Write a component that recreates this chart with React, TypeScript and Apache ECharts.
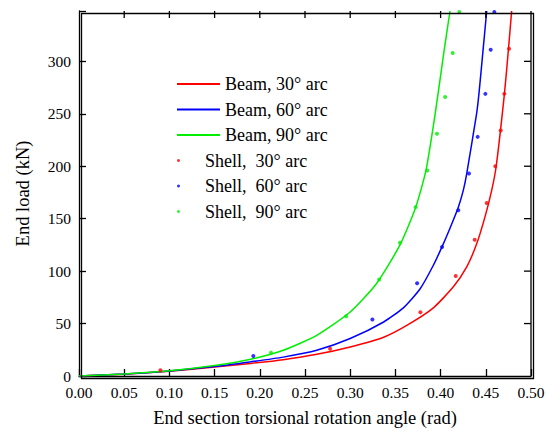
import React, { useEffect, useRef } from "react";
import * as echarts from "echarts";

const xTicks = [0, 0.05, 0.1, 0.15, 0.2, 0.25, 0.3, 0.35, 0.4, 0.45, 0.5];
const yTicks = [0, 50, 100, 150, 200, 250, 300];
const yMax = 348;

const seriesNames = [
  "Beam, 30° arc",
  "Beam, 60° arc",
  "Beam, 90° arc",
  "Shell,  30° arc",
  "Shell,  60° arc",
  "Shell,  90° arc",
];

const beam30: [number, number][] = [
  [0, 0], [0.05, 1.7], [0.1, 4.5], [0.15, 8.5], [0.19, 12], [0.226, 15.6],
  [0.263, 20.7], [0.3, 27.7], [0.337, 37], [0.364, 49], [0.392, 65],
  [0.4141, 85], [0.4289, 104], [0.4399, 126], [0.4491, 151.7], [0.4565, 177],
  [0.4615, 200], [0.4706, 269], [0.4751, 312], [0.4786, 348],
];
const beam60: [number, number][] = [
  [0, 0], [0.05, 1.8], [0.1, 4.8], [0.15, 9], [0.189, 13.4], [0.226, 18],
  [0.263, 24.5], [0.3, 35.7], [0.337, 51.5], [0.3588, 65], [0.3772, 83],
  [0.392, 105.6], [0.403, 126], [0.4123, 145], [0.4196, 161], [0.4251, 177],
  [0.4289, 193], [0.4398, 250], [0.4424, 269], [0.447, 311], [0.451, 348],
];
const beam90: [number, number][] = [
  [0, 0], [0.05, 2], [0.1, 5], [0.15, 10], [0.19, 16], [0.226, 24.5],
  [0.263, 38.8], [0.3, 61], [0.329, 88], [0.3551, 125], [0.3725, 161],
  [0.3838, 196], [0.394, 250], [0.404, 311], [0.4104, 348],
];
const shell30: [number, number][] = [
  [0.09, 5.4], [0.2777, 26], [0.3776, 60.8], [0.4167, 95.4], [0.4377, 130],
  [0.451, 165], [0.4605, 200], [0.4665, 234], [0.4705, 269], [0.4757, 312],
];
const shell60: [number, number][] = [
  [0.1928, 19], [0.3245, 53.8], [0.374, 88.4], [0.4016, 123], [0.4196, 158],
  [0.4314, 193], [0.441, 228], [0.4495, 269], [0.4554, 311], [0.4594, 347],
];
const shell90: [number, number][] = [
  [0.2124, 22.3], [0.2954, 57], [0.332, 92], [0.355, 127], [0.3724, 161],
  [0.3853, 196], [0.396, 231], [0.405, 266], [0.4134, 308], [0.4207, 347],
];

const RED = "#ff0000";
const BLUE = "#0000ff";
const GREEN = "#00ee00";
const FONT = "Liberation Serif";

export default function App() {
  const ref = useRef<HTMLDivElement>(null);
  useEffect(() => {
    if (!ref.current) return;
    const chart = echarts.init(ref.current, undefined, { renderer: "svg" });
    const mkLine = () => ({ show: true, onZero: false, lineStyle: { color: "#000", width: 1.3 } });
    const mkTick = () => ({ show: true, inside: true, length: 7, lineStyle: { color: "#000", width: 1.3 } });
    const lineSeries = (name: string, data: [number, number][], color: string) => ({
      name,
      type: "line",
      data,
      smooth: 0.2,
      showSymbol: false,
      lineStyle: { color, width: 1.5 },
      itemStyle: { color },
      z: 2,
    });
    const dotSeries = (name: string, data: [number, number][], color: string) => ({
      name,
      type: "scatter",
      data,
      symbol: "circle",
      symbolSize: 4,
      itemStyle: { color },
      z: 3,
    });
    const xMax = xTicks[xTicks.length - 1];
    // frame items: [x, y, kind] kind 0 = top tick, 1 = right tick, 2 = right border
    const frameData: number[][] = [
      ...xTicks.slice(1, -1).map((v) => [v, yMax, 0]),
      ...yTicks.slice(1).map((v) => [xMax, v, 1]),
      [xMax, 0, 2],
    ];
    const legendText = { color: "#000", fontFamily: FONT, fontSize: 18, lineHeight: 20 };
    chart.setOption({
      animation: false,
      backgroundColor: "#fff",
      textStyle: { fontFamily: FONT },
      grid: { left: 79, right: 19, top: 11, bottom: 60, containLabel: false },
      graphic: [
        {
          type: "rect",
          left: 79,
          top: 11,
          shape: { width: 452, height: 365 },
          style: { fill: "none", stroke: "#000", lineWidth: 1.3 },
          silent: true,
          z: 10,
        },
      ],
      legend: [
        {
          data: seriesNames.slice(0, 3).map((n) => ({ name: n, icon: "rect" })),
          orient: "vertical",
          left: 172,
          top: 69,
          itemWidth: 43,
          itemHeight: 2,
          itemGap: 5.5,
          textStyle: legendText,
          selectedMode: false,
        },
        {
          data: seriesNames.slice(3).map((n) => ({ name: n, icon: "circle" })),
          orient: "vertical",
          left: 172,
          top: 145.5,
          itemWidth: 43,
          itemHeight: 3,
          itemGap: 5.5,
          textStyle: legendText,
          selectedMode: false,
        },
      ],
      xAxis: {
        type: "value",
        min: xTicks[0],
        max: xMax,
        interval: 0.05,
        position: "bottom",
        name: "End section torsional rotation angle (rad)",
        nameLocation: "middle",
        nameGap: 32,
        nameTextStyle: { color: "#000", fontFamily: FONT, fontSize: 18.5 },
        axisLine: mkLine(),
        axisTick: mkTick(),
        splitLine: { show: false },
        axisLabel: {
          color: "#000",
          fontFamily: FONT,
          fontSize: 15.5,
          margin: 8,
          formatter: (v: number) => v.toFixed(2),
        },
      },
      yAxis: {
        type: "value",
        min: yTicks[0],
        max: yMax,
        interval: 50,
        position: "left",
        name: "End load (kN)",
        nameLocation: "middle",
        nameGap: 47,
        nameTextStyle: { color: "#000", fontFamily: FONT, fontSize: 18.5 },
        axisLine: mkLine(),
        axisTick: mkTick(),
        splitLine: { show: false },
        axisLabel: {
          color: "#000",
          fontFamily: FONT,
          fontSize: 15.5,
          margin: 8,
          formatter: (v: number) => (yTicks.indexOf(v) >= 0 ? String(v) : ""),
        },
      },
      series: [
        lineSeries(seriesNames[0], beam30, RED),
        lineSeries(seriesNames[1], beam60, BLUE),
        lineSeries(seriesNames[2], beam90, GREEN),
        dotSeries(seriesNames[3], shell30, RED),
        dotSeries(seriesNames[4], shell60, BLUE),
        dotSeries(seriesNames[5], shell90, GREEN),
        {
          type: "custom",
          name: "frame",
          silent: true,
          clip: false,
          z: 5,
          data: frameData,
          renderItem: (params: any, api: any) => {
            const kind = api.value(2);
            const p = api.coord([api.value(0), api.value(1)]);
            const style = { stroke: "#000", lineWidth: 1.3 };
            if (kind === 0) {
              return { type: "line", shape: { x1: p[0], y1: p[1], x2: p[0], y2: p[1] + 7 }, style };
            }
            if (kind === 1) {
              return { type: "line", shape: { x1: p[0], y1: p[1], x2: p[0] - 7, y2: p[1] }, style };
            }
            const q = api.coord([xMax, yMax]);
            return { type: "line", shape: { x1: p[0], y1: p[1], x2: q[0], y2: q[1] }, style };
          },
        },
      ],
    });
    return () => chart.dispose();
  }, []);
  return (
    <div
      ref={ref}
      style={{ position: "fixed", left: 0, top: 0, width: 550, height: 436, background: "#fff" }}
    />
  );
}
